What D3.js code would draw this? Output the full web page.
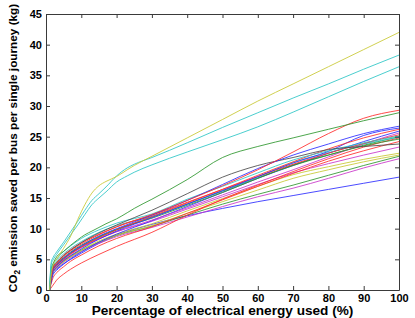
<!DOCTYPE html>
<html>
<head>
<meta charset="utf-8">
<script src="https://cdn.jsdelivr.net/npm/d3@7"></script>
<style>
  html, body { margin: 0; padding: 0; background: #fff; }
  svg { display: block; }
  text { font-family: "Liberation Sans", Arial, Helvetica, sans-serif; font-weight: bold; fill: #000; }
</style>
</head>
<body>
<svg id="chart" width="415" height="318"></svg>
<script>
// ---- data ----
const xValues = [1, 2, 3, 5, 7, 10, 15, 20, 30, 40, 50, 60, 70, 80, 90, 100];
const xTicks = [0, 10, 20, 30, 40, 50, 60, 70, 80, 90, 100];
const yTicks = [0, 5, 10, 15, 20, 25, 30, 35, 40, 45];
const xLabel = "Percentage of electrical energy used (%)";
const yLabelParts = ["CO", "2", " emission saved per bus per single journey (kg)"];

// outliers use a finer x grid
const xFine = [1, 1.5, 2, 3, 5, 7, 9, 11, 13, 15, 17, 20, 23, 25, 30, 40, 50, 60, 70, 80, 90, 100];
const yellowTop = [0, 2.6, 4.0, 5.0, 6.8, 8.8, 11.5, 13.9, 15.8, 17.0, 17.7, 18.5, 19.6, 20.3, 21.8, 24.8, 27.8, 30.8, 33.6, 36.4, 39.2, 42.0];
const cyanTopA  = [0, 4.6, 5.3, 6.2, 7.8, 9.5, 11.2, 13.0, 14.6, 15.7, 16.8, 18.6, 19.9, 20.5, 21.6, 24.0, 26.5, 28.9, 31.3, 33.6, 36.0, 38.3];
const cyanTopB  = [0, 4.2, 4.9, 5.8, 7.4, 9.0, 10.6, 12.3, 13.9, 15.0, 16.0, 17.6, 18.6, 19.2, 20.4, 22.5, 24.5, 26.6, 29.0, 31.5, 34.0, 36.4];
const greenHigh = [0, 3.6, 4.3, 5.4, 6.3, 7.3, 8.2, 9.0, 9.6, 10.2, 10.8, 11.6, 12.6, 13.3, 14.8, 18.0, 21.6, 23.4, 24.8, 26.2, 27.6, 28.9];

// cluster series (values at xValues)
const redTop    = [0, 3.6, 4.3, 5.5, 6.4, 7.5, 9.0, 10.3, 12.3, 14.6, 17.0, 19.6, 22.5, 25.5, 28.0, 29.3];
const blueA     = [0, 3.4, 4.1, 5.2, 6.1, 7.2, 8.8, 10.0, 12.2, 14.6, 17.2, 19.8, 22.0, 23.8, 25.5, 26.7];
const greyA     = [0, 3.7, 4.4, 5.6, 6.5, 7.7, 9.3, 10.6, 13.0, 15.7, 18.4, 20.3, 21.6, 22.9, 23.4, 23.8];
const cyanA     = [0, 4.2, 5.0, 6.3, 7.2, 8.4, 9.8, 10.9, 12.4, 14.8, 16.9, 19.1, 21.2, 22.7, 24.0, 25.1];
const redA      = [0, 3.3, 4.0, 5.0, 5.9, 7.0, 8.5, 9.8, 12.0, 14.2, 16.4, 18.7, 20.9, 23.0, 24.8, 26.2];
const blueB     = [0, 3.0, 3.7, 4.8, 5.6, 6.7, 8.3, 9.6, 11.8, 14.0, 16.2, 18.5, 20.7, 22.6, 25.2, 26.4];
const greenA    = [0, 3.5, 4.2, 5.3, 6.2, 7.3, 8.7, 9.9, 11.7, 13.8, 15.9, 18.2, 20.4, 22.0, 23.5, 24.6];
const magentaA  = [0, 3.2, 3.9, 4.9, 5.8, 6.9, 8.3, 9.5, 11.4, 13.4, 15.5, 17.6, 19.6, 21.7, 23.8, 25.6];
const redLow    = [0, 0.8, 1.6, 2.6, 3.4, 4.4, 5.8, 7.1, 9.4, 12.2, 14.8, 17.1, 19.3, 21.4, 23.3, 24.8];
const magentaB  = [0, 3.4, 4.1, 5.1, 6.0, 7.0, 8.4, 9.5, 11.2, 13.2, 15.2, 17.2, 19.1, 20.6, 22.0, 23.3];
const yellowA   = [0, 3.1, 3.8, 4.8, 5.6, 6.6, 8.0, 9.1, 10.8, 12.9, 14.9, 16.9, 18.8, 20.1, 21.3, 22.3];
const yellowB   = [0, 2.9, 3.6, 4.6, 5.4, 6.4, 7.8, 8.9, 10.5, 12.5, 14.4, 16.3, 18.2, 19.6, 20.9, 22.0];
const greenB    = [0, 3.0, 3.7, 4.7, 5.5, 6.5, 7.8, 8.9, 10.4, 12.2, 14.0, 15.6, 17.1, 18.7, 20.3, 21.8];
const magentaC  = [0, 2.8, 3.5, 4.5, 5.3, 6.3, 7.6, 8.7, 10.2, 11.9, 13.6, 15.2, 16.6, 18.2, 19.9, 21.4];
const blueLow   = [0, 2.8, 3.4, 4.3, 5.0, 6.0, 7.6, 8.9, 10.7, 12.1, 13.3, 14.4, 15.4, 16.4, 17.4, 18.4];
const redB      = [0, 2.0, 2.8, 3.8, 4.7, 5.7, 7.2, 8.4, 10.3, 12.5, 14.7, 16.9, 19.0, 21.0, 22.7, 24.2];
const greenC    = [0, 3.3, 4.0, 5.1, 6.0, 7.1, 8.6, 9.8, 11.9, 14.0, 16.1, 18.3, 20.3, 22.0, 23.6, 25.0];
const redC      = [0, 3.8, 4.5, 5.7, 6.6, 7.7, 9.1, 10.3, 12.2, 14.3, 16.4, 18.5, 20.5, 22.3, 23.9, 25.3];
const cyanB     = [0, 3.9, 4.7, 5.9, 6.8, 7.9, 9.4, 10.5, 12.0, 14.0, 16.2, 18.4, 20.8, 22.4, 23.8, 24.9];
const blueC     = [0, 2.5, 3.2, 4.2, 5.1, 6.2, 7.8, 9.1, 11.3, 13.6, 15.9, 18.2, 20.3, 22.3, 24.2, 25.9];

const palette = {
  b: "#2b2bff", g: "#2e962e", r: "#ff2b2b", c: "#2cc6c6",
  m: "#c935c9", y: "#c8c832", k: "#4a4a4a"
};

const series = [
  { x: xValues, y: blueLow,  c: "b" },
  { x: xValues, y: magentaC, c: "m" },
  { x: xValues, y: greenB,   c: "g" },
  { x: xValues, y: yellowB,  c: "y" },
  { x: xValues, y: yellowA,  c: "y" },
  { x: xValues, y: magentaB, c: "m" },
  { x: xValues, y: redLow,   c: "r" },
  { x: xValues, y: redB,     c: "r" },
  { x: xValues, y: blueC,    c: "b" },
  { x: xValues, y: greenC,   c: "g" },
  { x: xValues, y: magentaA, c: "m" },
  { x: xValues, y: greenA,   c: "g" },
  { x: xValues, y: cyanB,    c: "c" },
  { x: xValues, y: redC,     c: "r" },
  { x: xValues, y: blueB,    c: "b" },
  { x: xValues, y: redA,     c: "r" },
  { x: xValues, y: cyanA,    c: "c" },
  { x: xValues, y: greyA,    c: "k" },
  { x: xValues, y: blueA,    c: "b" },
  { x: xValues, y: redTop,   c: "r" },
  { x: xFine,   y: greenHigh, c: "g" },
  { x: xFine,   y: cyanTopB, c: "c" },
  { x: xFine,   y: cyanTopA, c: "c" },
  { x: xFine,   y: yellowTop, c: "y" }
];

// ---- layout ----
const svg = d3.select("#chart");
const mLeft = 46, mRight = 399, mTop = 14, mBottom = 290;

const x = d3.scaleLinear().domain([0, 100]).range([mLeft, mRight]);
const y = d3.scaleLinear().domain([0, 45]).range([mBottom, mTop]);

const line = d3.line()
  .x(d => x(d[0]))
  .y(d => y(d[1]))
  .curve(d3.curveMonotoneX);

const plot = svg.append("g");
series.forEach(s => {
  const pts = s.x.map((xv, i) => [xv, s.y[i]]);
  plot.append("path")
    .attr("d", line(pts))
    .attr("fill", "none")
    .attr("stroke", palette[s.c])
    .attr("stroke-width", 1)
    .attr("stroke-opacity", 0.85);
});

// ---- axes (box with inward ticks) ----
const axisColor = "#3a3a3a";
function styleAxis(g) {
  g.selectAll("path.domain").attr("stroke", axisColor).attr("stroke-width", 1);
  g.selectAll(".tick line").attr("stroke", axisColor).attr("stroke-width", 1);
  g.selectAll("text")
    .attr("font-family", "Liberation Sans, Arial, sans-serif")
    .attr("font-weight", "bold")
    .attr("font-size", 11)
    .attr("fill", "#000");
}

svg.append("g")
  .attr("transform", `translate(0,${mBottom})`)
  .call(d3.axisBottom(x).tickValues(xTicks).tickSizeInner(-4).tickSizeOuter(0).tickPadding(4).tickFormat(d3.format("d")))
  .call(styleAxis);

svg.append("g")
  .attr("transform", `translate(0,${mTop})`)
  .call(d3.axisTop(x).tickValues(xTicks).tickSizeInner(-4).tickSizeOuter(0).tickFormat(""))
  .call(styleAxis);

svg.append("g")
  .attr("transform", `translate(${mLeft},0)`)
  .call(d3.axisLeft(y).tickValues(yTicks).tickSizeInner(-4).tickSizeOuter(0).tickPadding(4).tickFormat(d3.format("d")))
  .call(styleAxis);

svg.append("g")
  .attr("transform", `translate(${mRight},0)`)
  .call(d3.axisRight(y).tickValues(yTicks).tickSizeInner(-4).tickSizeOuter(0).tickFormat(""))
  .call(styleAxis);

// ---- axis titles ----
const xl = svg.append("text")
  .attr("x", (mLeft + mRight) / 2)
  .attr("y", 315)
  .attr("text-anchor", "middle")
  .attr("font-size", 12)
  .text(xLabel);
{
  const len = xl.node().getComputedTextLength();
  xl.attr("font-size", 12 * 262 / len);
}

const yl = svg.append("text")
  .attr("transform", `translate(17,148) rotate(-90)`)
  .attr("text-anchor", "middle")
  .attr("font-size", 12);
yl.append("tspan").text(yLabelParts[0]);
yl.append("tspan").attr("class", "sub").attr("font-size", 8.5).attr("dy", 3).text(yLabelParts[1]);
yl.append("tspan").attr("dy", -3).text(yLabelParts[2]);
{
  const len = yl.node().getComputedTextLength();
  const k = 289 / len;
  yl.attr("font-size", 12 * k);
  yl.select("tspan.sub").attr("font-size", 8.5 * k);
}
</script>
</body>
</html>
